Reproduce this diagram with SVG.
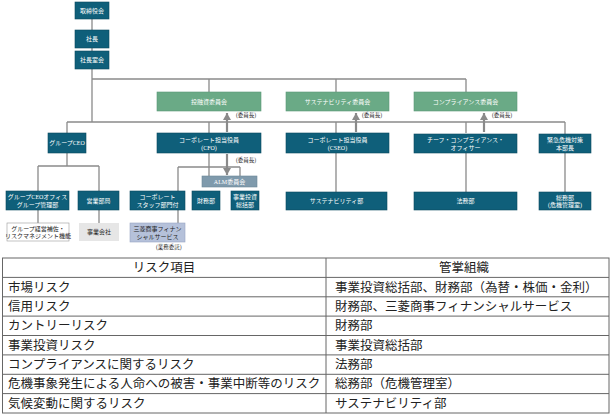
<svg xmlns="http://www.w3.org/2000/svg" width="612" height="420" viewBox="0 0 612 420">
<defs>
<marker id="ah" markerUnits="userSpaceOnUse" markerWidth="9" markerHeight="8" refX="7" refY="4" orient="auto">
<path d="M0,0 L7,4 L0,8 z" fill="#8a8a8a"/>
</marker>
<style>
.b{fill:#0f5f7a;stroke:#0a4a60;stroke-width:0.6}
.g{fill:#6aaa86;stroke:#5a9877;stroke-width:0.6}
.a{fill:#7f9aac;stroke:#6c8798;stroke-width:0.6}
.m{fill:#b5c1da;stroke:#98a6c2;stroke-width:0.6}
.w{fill:#ffffff;stroke:#999;stroke-width:0.6}
.e{fill:#e6e6e6;stroke:none}
.t{font-family:"Liberation Serif","Noto Sans CJK JP",serif;font-size:6px;fill:#ffffff;text-anchor:middle}
.k{font-family:"Liberation Serif","Noto Sans CJK JP",serif;font-size:6px;fill:#222;text-anchor:middle}
.l{fill:none;stroke:#8a8a8a;stroke-width:1.3}
.ar{fill:none;stroke:#8a8a8a;stroke-width:2.2;marker-end:url(#ah)}
.c{font-family:"Liberation Serif","Noto Sans CJK JP",serif;font-size:5.5px;fill:#333}
.tb{fill:none;stroke:#666;stroke-width:1}
.tx{font-family:"Noto Sans CJK JP",sans-serif;font-size:12.5px;fill:#222}
</style>
</defs>
<rect width="612" height="420" fill="#ffffff"/>
<g id="connectors">
<path class="l" d="M92,19 V30 M92,48 V51 M92,69 V122 M92,79 H466 M209,79 V92 M336,79 V92 M466,79 V92"/>
<path class="l" d="M67,122 H565 M67,122 V133 M209,122 V133 M336,122 V133 M466,122 V133 M565,122 V134"/>
<path class="l" d="M67,153 V166 M38,166 H99 M38,166 V191 M99,166 V191 M38,210 V223 M99,210 V223"/>
<path class="l" d="M209,153 V176 M178,167 H240 M178,167 V191 M240,167 V176 M178,210 V223"/>
<path class="l" d="M336,153 V192 M466,153 V192 M565,153 V192"/>
<path class="ar" d="M227,132 V113"/>
<path class="ar" d="M356,132 V113"/>
<path class="ar" d="M484,132 V113"/>
<path class="ar" d="M227,154 V175"/>
<text class="c" x="236" y="116.5">(委員長)</text>
<text class="c" x="362" y="116.5">(委員長)</text>
<text class="c" x="492" y="116.5">(委員長)</text>
<text class="c" x="236" y="161.5">(委員長)</text>
<text class="c" x="156" y="249">(業務委託)</text>
</g>
<g id="board"><rect class="b" x="75" y="2" width="34" height="17"/><text class="t" x="92" y="12.8">取締役会</text></g>
<g id="president"><rect class="b" x="75" y="30" width="34" height="18"/><text class="t" x="92" y="41">社長</text></g>
<g id="president-office"><rect class="b" x="75" y="51" width="34" height="18"/><text class="t" x="92" y="62">社長室会</text></g>
<g id="investment-committee"><rect class="g" x="157" y="92" width="104" height="19"/><text class="t" x="209" y="103.5">投融資委員会</text></g>
<g id="sustainability-committee"><rect class="g" x="286" y="92" width="103" height="19"/><text class="t" x="337.5" y="103.5">サステナビリティ委員会</text></g>
<g id="compliance-committee"><rect class="g" x="414" y="92" width="103" height="19"/><text class="t" x="465.5" y="103.5">コンプライアンス委員会</text></g>
<g id="group-ceo"><rect class="b" x="48" y="133" width="38" height="20"/><text class="t" x="67" y="145">グループCEO</text></g>
<g id="cfo"><rect class="b" x="157" y="133" width="104" height="20"/><text class="t" x="209" y="141.5">コーポレート担当役員</text><text class="t" x="209" y="149.5">(CFO)</text></g>
<g id="cseo"><rect class="b" x="286" y="133" width="103" height="20"/><text class="t" x="337.5" y="141.5">コーポレート担当役員</text><text class="t" x="337.5" y="149.5">(CSEO)</text></g>
<g id="cco"><rect class="b" x="414" y="134" width="103" height="19"/><text class="t" x="465.5" y="142">チーフ・コンプライアンス・</text><text class="t" x="465.5" y="150">オフィサー</text></g>
<g id="crisis-hq"><rect class="b" x="539" y="134" width="52" height="19"/><text class="t" x="565" y="142">緊急危機対策</text><text class="t" x="565" y="150">本部長</text></g>
<g id="alm"><rect class="a" x="202" y="176" width="55" height="11"/><text class="t" x="229.5" y="183.6">ALM委員会</text></g>
<g id="ceo-office"><rect class="b" x="6" y="191" width="63" height="19"/><text class="t" x="37.5" y="199">グループCEOオフィス</text><text class="t" x="37.5" y="207">グループ管理部</text></g>
<g id="sales"><rect class="b" x="78" y="191" width="41" height="19"/><text class="t" x="98.5" y="202.5">営業部局</text></g>
<g id="corporate-staff"><rect class="b" x="130" y="191" width="55" height="19"/><text class="t" x="157.5" y="199">コーポレート</text><text class="t" x="157.5" y="207">スタッフ部門付</text></g>
<g id="finance"><rect class="b" x="192" y="191" width="28" height="19"/><text class="t" x="206" y="202.5">財務部</text></g>
<g id="investment-admin"><rect class="b" x="231" y="191" width="28" height="19"/><text class="t" x="245" y="199">事業投資</text><text class="t" x="245" y="207">総括部</text></g>
<g id="sustainability-dept"><rect class="b" x="286" y="192" width="101" height="18"/><text class="t" x="336.5" y="203">サステナビリティ部</text></g>
<g id="legal"><rect class="b" x="414" y="192" width="103" height="18"/><text class="t" x="465.5" y="203">法務部</text></g>
<g id="general-affairs"><rect class="b" x="539" y="192" width="52" height="18"/><text class="t" x="565" y="199.5">総務部</text><text class="t" x="565" y="207">(危機管理室)</text></g>
<g id="group-support"><rect class="w" x="7" y="223" width="62" height="18"/><text class="k" x="38" y="230.5">グループ経営補佐・</text><text class="k" x="38" y="238">リスクマネジメント機能</text></g>
<g id="operating-companies"><rect class="e" x="79" y="223" width="40" height="18"/><text class="k" x="99" y="234">事業会社</text></g>
<g id="mcfs"><rect class="m" x="130" y="223" width="55" height="19"/><text class="k" x="157.5" y="231">三菱商事フィナン</text><text class="k" x="157.5" y="239">シャルサービス</text></g>
<g id="table">
<rect class="tb" x="2.5" y="258" width="606.5" height="155"/>
<path class="tb" d="M2.5,277.4 H609 M2.5,296.8 H609 M2.5,316.1 H609 M2.5,335.5 H609 M2.5,354.9 H609 M2.5,374.3 H609 M2.5,393.6 H609 M326,258 V413"/>
<text class="tx" x="164" y="272" text-anchor="middle">リスク項目</text>
<text class="tx" x="464" y="272" text-anchor="middle">管掌組織</text>
<text class="tx" x="8" y="291.5">市場リスク</text>
<text class="tx" x="8" y="310.9">信用リスク</text>
<text class="tx" x="8" y="330.3">カントリーリスク</text>
<text class="tx" x="8" y="349.7">事業投資リスク</text>
<text class="tx" x="8" y="369">コンプライアンスに関するリスク</text>
<text class="tx" x="8" y="388.4">危機事象発生による人命への被害・事業中断等のリスク</text>
<text class="tx" x="8" y="407.8">気候変動に関するリスク</text>
<text class="tx" x="335" y="291.5">事業投資総括部、財務部（為替・株価・金利）</text>
<text class="tx" x="335" y="310.9">財務部、三菱商事フィナンシャルサービス</text>
<text class="tx" x="335" y="330.3">財務部</text>
<text class="tx" x="335" y="349.7">事業投資総括部</text>
<text class="tx" x="335" y="369">法務部</text>
<text class="tx" x="335" y="388.4">総務部（危機管理室）</text>
<text class="tx" x="335" y="407.8">サステナビリティ部</text>
</g>
</svg>
